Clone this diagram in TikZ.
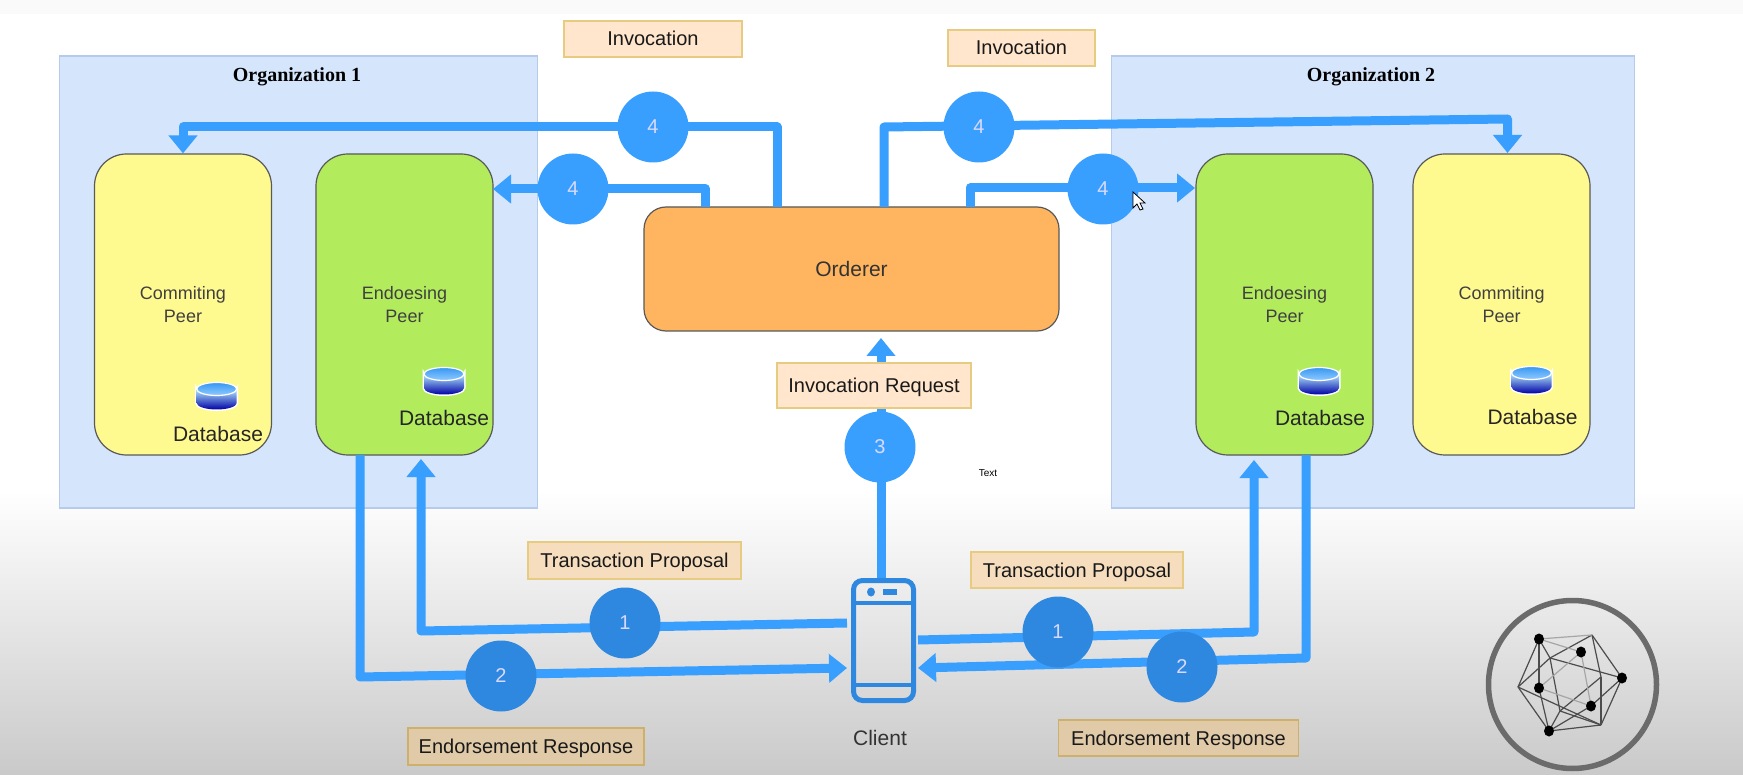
\documentclass[tikz,border=0pt]{standalone}
\usepackage{fontspec}
\setmainfont{Liberation Sans}
\newfontfamily\orgfont{Liberation Serif}
\usetikzlibrary{arrows.meta}
\definecolor{wireblue}{HTML}{399FFF}
\definecolor{dotdark}{HTML}{2E88DF}
\definecolor{orgfill}{HTML}{D4E5FC}
\definecolor{orgline}{HTML}{B6CAEA}
\definecolor{peeryellow}{HTML}{FFFA90}
\definecolor{peergreen}{HTML}{B2EC5D}
\definecolor{orderfill}{HTML}{FFB55F}
\definecolor{tagfill}{HTML}{FFE6CC}
\definecolor{tagline}{HTML}{E6CB80}
\definecolor{tagmid}{HTML}{F5DDBE}
\definecolor{taglow}{HTML}{E0CAA8}
\definecolor{taglowline}{HTML}{CDB06C}
\tikzstyle{org} = [rectangle, minimum width=478pt, minimum height=452pt, inner sep=0pt, draw=orgline, fill=orgfill, line width=1.5pt]
\tikzstyle{peer} = [rectangle, rounded corners=32pt, minimum width=177pt, minimum height=301pt, inner sep=0pt, align=center, draw=black!65, line width=1.2pt, font=\fontsize{18}{22.5}\selectfont, text=black!75]
\tikzstyle{tag} = [rectangle, inner sep=0pt, text height=14pt, text depth=0pt, draw=tagline, line width=1.2pt, fill=tagfill, font=\fontsize{20}{24}\selectfont, text=black!90]
\tikzstyle{dot} = [circle, minimum size=71pt, inner sep=0pt, fill=wireblue, text=white!85!blue, font=\fontsize{20}{24}\selectfont]
\tikzstyle{wire} = [wireblue, line width=9pt, line join=round]
\tikzstyle{arrow} = [wire, -{Triangle[length=18pt,width=28pt]}]
\tikzstyle{dbtext} = [font=\fontsize{21}{25}\selectfont, text=black!85]
\begin{document}
\begin{tikzpicture}[x=1pt,y=-1pt]
\useasboundingbox (0,0) rectangle (1743,775);
\fill[white] (0,0) rectangle (1743,775);
\fill[black!2] (0,0) rectangle (1743,14);
\shade[top color=white,bottom color=black!21] (0,490) rectangle (1743,775);

% organisations
\node[org] (org1) at (298.5,282) {};
\node[org,minimum width=523pt] (org2) at (1373,282) {};
\node[font=\orgfont\bfseries\fontsize{20}{24}\selectfont] (org1title) at (297,77) {Organization 1};
\node[font=\orgfont\bfseries\fontsize{20}{24}\selectfont] (org2title) at (1371,77) {Organization 2};

% peers and orderer
\node[peer,fill=peeryellow] (commitL) at (183,304.5) {\raisebox{-1.5pt}{Commiting}\\\raisebox{-1.5pt}{Peer}};
\node[peer,fill=peergreen] (endoL) at (404.5,304.5) {\raisebox{-1.5pt}{Endoesing}\\\raisebox{-1.5pt}{Peer}};
\node[peer,fill=peergreen] (endoR) at (1284.5,304.5) {\raisebox{-1.5pt}{Endoesing}\\\raisebox{-1.5pt}{Peer}};
\node[peer,fill=peeryellow] (commitR) at (1501.5,304.5) {\raisebox{-1.5pt}{Commiting}\\\raisebox{-1.5pt}{Peer}};
\node[rectangle, rounded corners=22pt, minimum width=415pt, minimum height=124pt, inner sep=0pt, draw=black!65, line width=1.2pt, fill=orderfill, font=\fontsize{21}{25}\selectfont, text=black!80] (orderer) at (851.5,269) {Orderer};

% way points
\coordinate (a1) at (777,207);
\coordinate (a2) at (777,127);
\coordinate (a3) at (183,127);
\coordinate (b1) at (705.5,207);
\coordinate (b2) at (705.5,189);
\coordinate (b3) at (493,189);
\coordinate (c1) at (884,207);
\coordinate (c2) at (884,127);
\coordinate (c3) at (1507.5,119);
\coordinate (c4) at (1507.5,153);
\coordinate (d1) at (970,207);
\coordinate (d2) at (970,188);
\coordinate (d3) at (1195,188);
\coordinate (e1) at (881,578);
\coordinate (e2) at (881,338);
\coordinate (f1) at (847,623);
\coordinate (f2) at (421,631);
\coordinate (f3) at (421,459);
\coordinate (g1) at (360,455);
\coordinate (g2) at (360,677);
\coordinate (g3) at (847,668);
\coordinate (h1) at (918,640);
\coordinate (h2) at (1254,632);
\coordinate (h3) at (1254,460);
\coordinate (k1) at (1306,455);
\coordinate (k2) at (1306,658);
\coordinate (k3) at (918,668);

% connectors
\draw[arrow] (a1)--(a2)--(a3)--(commitL.north);
\draw[arrow] (b1)--(b2)--(b3);
\draw[arrow] (c1)--(c2)--(c3)--(c4);
\draw[arrow] (d1)--(d2)--(d3);
\draw[arrow] (e1)--(e2);
\draw[arrow] (f1)--(f2)--(f3);
\draw[arrow] (g1)--(g2)--(g3);
\draw[arrow] (h1)--(h2)--(h3);
\draw[arrow] (k1)--(k2)--(k3);

% numbered circles
\node[dot] (n4a) at (653,127) {4};
\node[dot] (n4b) at (573,189) {4};
\node[dot] (n4c) at (979,127) {4};
\node[dot] (n4d) at (1103,189) {4};
\node[dot] (n3) at (880,447) {3};
\node[dot,fill=dotdark] (n1a) at (625,623) {1};
\node[dot,fill=dotdark] (n2a) at (501,676) {2};
\node[dot,fill=dotdark] (n1b) at (1058,632) {1};
\node[dot,fill=dotdark] (n2b) at (1182,667) {2};

% labels
\node[tag,minimum width=178pt,minimum height=36pt] (inv1) at (653,39) {Invocation};
\node[tag,minimum width=147pt,minimum height=36pt] (inv2) at (1021.5,48) {Invocation};
\node[tag,minimum width=194pt,minimum height=45pt] (invreq) at (874,385.5) {Invocation Request};
\node[tag,minimum width=213pt,minimum height=37pt,fill=tagmid] (prop1) at (634.5,560.5) {Transaction Proposal};
\node[tag,minimum width=212pt,minimum height=36pt,fill=tagmid] (prop2) at (1077,570) {Transaction Proposal};
\node[tag,minimum width=236pt,minimum height=37pt,fill=taglow,draw=taglowline] (resp1) at (526,746.5) {Endorsement Response};
\node[tag,minimum width=240pt,minimum height=36pt,fill=taglow,draw=taglowline] (resp2) at (1178.5,738) {Endorsement Response};
\node[font=\fontsize{10}{12}\selectfont] (txt) at (988,473) {Text};

% databases
\foreach \x/\y in {216.7/396,444/381,1319/381,1531.5/380}{
\draw[white,line width=3pt,fill=white] (\x-20,\y-7) -- (\x-20,\y+7) arc[start angle=180,end angle=0,x radius=20,y radius=6.5] -- (\x+20,\y-7) arc[start angle=0,end angle=180,x radius=20,y radius=6.5] -- cycle;
\shade[top color=blue!25!cyan!30!white,bottom color=blue!65!black] (\x-20,\y-7) -- (\x-20,\y+7) arc[start angle=180,end angle=0,x radius=20,y radius=6.5] -- (\x+20,\y-7) -- cycle;
\draw[white,line width=1.2pt,top color=wireblue!95!black,bottom color=wireblue!55!white] (\x,\y-7) ellipse[x radius=20,y radius=6.5];
}
\node[dbtext] (db1) at (218,434) {Database};
\node[dbtext] (db2) at (444,418) {Database};
\node[dbtext] (db3) at (1320,418) {Database};
\node[dbtext] (db4) at (1532.5,417) {Database};

% client
\draw[dotdark,line width=5pt,rounded corners=9pt] (853.5,580.5) rectangle (913.5,700.5);
\draw[dotdark,line width=4pt] (853.5,603) -- (913.5,603) (853.5,685) -- (913.5,685);
\fill[dotdark] (871,592) ellipse[x radius=4,y radius=4.5];
\fill[dotdark] (883,589) rectangle (897,595);
\node[font=\fontsize{21}{25}\selectfont,text=black!80] (client) at (880,738) {Client};

% logo
\draw[black!58,line width=5.5pt] (1572.5,684.5) circle[radius=84pt];
\coordinate (p1) at (1539,639);
\coordinate (p2) at (1592,635);
\coordinate (p3) at (1581,652);
\coordinate (p4) at (1622,678);
\coordinate (p5) at (1518,687);
\coordinate (p6) at (1539,688);
\coordinate (p7) at (1591,706);
\coordinate (p8) at (1601,725);
\coordinate (p9) at (1549,731);
\coordinate (p0) at (1560,711);
\coordinate (pk) at (1550,658);
\coordinate (pl) at (1601,677);
% strong edges, then faint ones
\foreach \s/\t in {1/5,1/6,6/9,5/9,9/8,8/4,4/2,2/l,l/8,2/k,k/5,k/0,k/4,0/l,9/0,5/8,0/8,7/4,7/9,1/k}{
\draw[black!70,line width=1.2pt] (p\s)--(p\t);
}
\foreach \s/\t in {1/2,1/3,6/3,3/7,6/7}{
\draw[black!35,line width=1.2pt] (p\s)--(p\t);
}
\foreach \s in {1,3,4,6,7,9}{
\fill[black] (p\s) ellipse[x radius=5,y radius=5.5];
}

% cursor
\draw[black,fill=white,line width=.8pt] (1133,192) -- (1133,208) -- (1137,204) -- (1140,210) -- (1143,209) -- (1140,203) -- (1145,203) -- cycle;
\end{tikzpicture}
\end{document}
